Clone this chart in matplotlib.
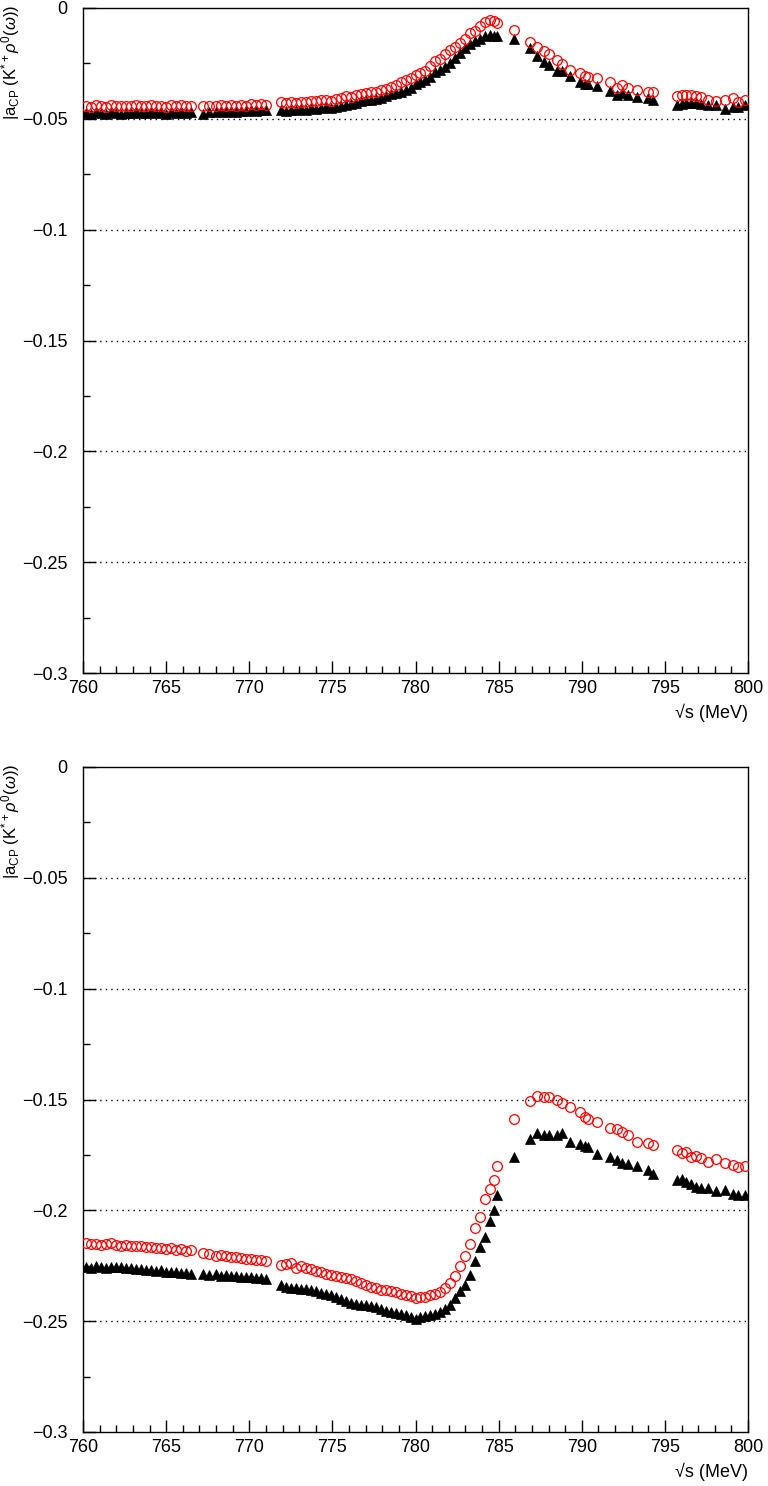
import matplotlib
matplotlib.use("Agg")
import matplotlib.pyplot as plt
from matplotlib.ticker import MultipleLocator

plt.rcParams['font.family'] = ['Liberation Sans', 'DejaVu Sans']
plt.rcParams['mathtext.fontset'] = 'custom'
plt.rcParams['mathtext.rm'] = 'Liberation Sans'
plt.rcParams['mathtext.it'] = 'Liberation Sans:italic'

# energie sqrt(s) en MeV (memes points pour les quatre series)
sqrt_s = [760.2, 760.5, 760.8, 761.1, 761.4, 761.7, 762.0, 762.3, 762.6, 762.9,
          763.2, 763.5, 763.8, 764.1, 764.4, 764.7, 765.0, 765.3, 765.6, 765.9,
          766.2, 766.5, 767.2, 767.6, 768.0, 768.3, 768.6, 768.9, 769.2, 769.5,
          769.8, 770.1, 770.4, 770.7, 771.0,
          771.9, 772.2, 772.5, 772.8, 773.1, 773.4, 773.7, 774.0, 774.3, 774.6,
          774.9, 775.2, 775.5, 775.8, 776.1, 776.4, 776.7, 777.0, 777.3, 777.6,
          777.9, 778.2, 778.5, 778.8, 779.1, 779.4, 779.7, 780.0, 780.3, 780.6,
          780.9, 781.2, 781.5, 781.8, 782.1, 782.4, 782.7, 783.0, 783.3, 783.6,
          783.9, 784.2, 784.5, 784.7, 784.9,
          785.9, 786.9, 787.3, 787.7, 788.0, 788.5, 788.8, 789.3, 789.9, 790.2,
          790.4, 790.9, 791.7, 792.1, 792.4, 792.8, 793.3, 794.0, 794.3,
          795.7, 796.0, 796.3, 796.6, 796.9, 797.2, 797.6, 798.1, 798.6, 799.1,
          799.4, 799.8]

# panneau du haut : cercles rouges
haut_rouge = [-0.0440, -0.0445, -0.0438, -0.0442, -0.0446, -0.0437, -0.0441, -0.0444, -0.0440, -0.0443,
              -0.0439, -0.0444, -0.0441, -0.0437, -0.0443, -0.0440, -0.0445, -0.0439, -0.0442, -0.0438,
              -0.0443, -0.0440, -0.0444, -0.0441, -0.0443, -0.0439, -0.0442, -0.0438, -0.0441, -0.0436,
              -0.0440, -0.0434, -0.0438, -0.0432, -0.0436,
              -0.0426, -0.0430, -0.0424, -0.0428, -0.0422, -0.0425, -0.0419, -0.0421, -0.0416, -0.0414,
              -0.0418, -0.0411, -0.0404, -0.0396, -0.0400, -0.0392, -0.0388, -0.0384, -0.0380, -0.0377,
              -0.0372, -0.0364, -0.0355, -0.0348, -0.0334, -0.0326, -0.0314, -0.0300, -0.0292, -0.0282,
              -0.0262, -0.0240, -0.0228, -0.0206, -0.0190, -0.0175, -0.0160, -0.0142, -0.0115, -0.0102,
              -0.0080, -0.0064, -0.0056, -0.0058, -0.0068,
              -0.0099, -0.0152, -0.0175, -0.0194, -0.0207, -0.0235, -0.0253, -0.0280, -0.0292, -0.0307,
              -0.0313, -0.0318, -0.0332, -0.0362, -0.0347, -0.0362, -0.0370, -0.0377, -0.0377,
              -0.0397, -0.0392, -0.0394, -0.0392, -0.0398, -0.0400, -0.0415, -0.0418, -0.0415, -0.0404,
              -0.0422, -0.0415]

# panneau du haut : triangles noirs
haut_noir = [-0.0472, -0.0476, -0.0470, -0.0474, -0.0477, -0.0471, -0.0473, -0.0476, -0.0472, -0.0475,
             -0.0470, -0.0474, -0.0472, -0.0469, -0.0474, -0.0471, -0.0476, -0.0470, -0.0473, -0.0469,
             -0.0474, -0.0471, -0.0478, -0.0470, -0.0468, -0.0466, -0.0469, -0.0465, -0.0467, -0.0463,
             -0.0466, -0.0461, -0.0464, -0.0460, -0.0462,
             -0.0460, -0.0464, -0.0458, -0.0461, -0.0456, -0.0458, -0.0453, -0.0455, -0.0450, -0.0448,
             -0.0451, -0.0446, -0.0441, -0.0437, -0.0433, -0.0428, -0.0420, -0.0416, -0.0413, -0.0410,
             -0.0405, -0.0396, -0.0388, -0.0382, -0.0377, -0.0370, -0.0360, -0.0345, -0.0336, -0.0327,
             -0.0310, -0.0290, -0.0278, -0.0264, -0.0250, -0.0224, -0.0205, -0.0182, -0.0162, -0.0150,
             -0.0138, -0.0128, -0.0124, -0.0126, -0.0128,
             -0.0141, -0.0182, -0.0217, -0.0245, -0.0255, -0.0283, -0.0283, -0.0307, -0.0332, -0.0343,
             -0.0343, -0.0352, -0.0373, -0.0392, -0.0385, -0.0392, -0.0403, -0.0408, -0.0415,
             -0.0438, -0.0434, -0.0428, -0.0427, -0.0427, -0.0433, -0.0436, -0.0438, -0.0457, -0.0448,
             -0.0445, -0.0438]

# panneau du bas : cercles rouges
bas_rouge = [-0.2148, -0.2152, -0.2150, -0.2156, -0.2150, -0.2146, -0.2158, -0.2160, -0.2158, -0.2160,
             -0.2162, -0.2160, -0.2164, -0.2165, -0.2168, -0.2170, -0.2174, -0.2172, -0.2178, -0.2176,
             -0.2182, -0.2180, -0.2192, -0.2198, -0.2204, -0.2202, -0.2206, -0.2210, -0.2212, -0.2214,
             -0.2218, -0.2220, -0.2224, -0.2226, -0.2230,
             -0.2245, -0.2240, -0.2236, -0.2258, -0.2252, -0.2262, -0.2266, -0.2272, -0.2280, -0.2286,
             -0.2291, -0.2296, -0.2300, -0.2304, -0.2308, -0.2320, -0.2328, -0.2336, -0.2344, -0.2352,
             -0.2360, -0.2358, -0.2364, -0.2370, -0.2376, -0.2380, -0.2388, -0.2396, -0.2392, -0.2389,
             -0.2384, -0.2378, -0.2368, -0.2350, -0.2330, -0.2295, -0.2250, -0.2205, -0.2152, -0.2080,
             -0.2032, -0.1950, -0.1905, -0.1863, -0.1800,
             -0.1590, -0.1509, -0.1484, -0.1487, -0.1490, -0.1500, -0.1517, -0.1536, -0.1555, -0.1578,
             -0.1588, -0.1600, -0.1627, -0.1634, -0.1645, -0.1660, -0.1693, -0.1698, -0.1705,
             -0.1730, -0.1740, -0.1735, -0.1760, -0.1755, -0.1762, -0.1783, -0.1770, -0.1785, -0.1796,
             -0.1804, -0.1800]

# panneau du bas : triangles noirs
bas_noir = [-0.2255, -0.2258, -0.2252, -0.2256, -0.2260, -0.2254, -0.2257, -0.2256, -0.2261, -0.2258,
            -0.2263, -0.2266, -0.2270, -0.2268, -0.2273, -0.2271, -0.2276, -0.2280, -0.2278, -0.2283,
            -0.2281, -0.2286, -0.2288, -0.2291, -0.2289, -0.2294, -0.2293, -0.2297, -0.2296, -0.2300,
            -0.2299, -0.2303, -0.2305, -0.2304, -0.2308,
            -0.2337, -0.2345, -0.2352, -0.2350, -0.2354, -0.2356, -0.2358, -0.2366, -0.2375, -0.2378,
            -0.2382, -0.2390, -0.2398, -0.2408, -0.2420, -0.2422, -0.2425, -0.2428, -0.2432, -0.2435,
            -0.2445, -0.2455, -0.2458, -0.2462, -0.2466, -0.2472, -0.2480, -0.2488, -0.2482, -0.2476,
            -0.2472, -0.2466, -0.2458, -0.2445, -0.2427, -0.2395, -0.2365, -0.2335, -0.2290, -0.2230,
            -0.2165, -0.2120, -0.2050, -0.2000, -0.1930,
            -0.1760, -0.1678, -0.1650, -0.1660, -0.1662, -0.1660, -0.1652, -0.1690, -0.1700, -0.1712,
            -0.1716, -0.1746, -0.1760, -0.1775, -0.1785, -0.1790, -0.1800, -0.1818, -0.1836,
            -0.1863, -0.1860, -0.1872, -0.1883, -0.1895, -0.1900, -0.1900, -0.1913, -0.1910, -0.1925,
            -0.1930, -0.1930]

fig = plt.figure(figsize=(7.68, 14.86), dpi=100)
ax_haut = fig.add_axes([83/768, 1 - 673/1486, 665/768, 665/1486])
ax_bas = fig.add_axes([83/768, 1 - 1432/1486, 665/768, 665/1486])

ylabel = r'|a$_{\rm CP}$ (K$^{*+}$$\rho^0$($\omega$))'

for ax, rouge, noir, ytop in [(ax_haut, haut_rouge, haut_noir, 5),
                              (ax_bas, bas_rouge, bas_noir, 764)]:
    for yg in [-0.05, -0.1, -0.15, -0.2, -0.25]:
        ax.axhline(yg, color='black', lw=1.0, ls=(0, (1, 3)), zorder=1)
    ax.plot(sqrt_s, noir, ls='none', marker='^', ms=7, color='black',
            markeredgewidth=0.5, zorder=3)
    ax.plot(sqrt_s, rouge, ls='none', marker='o', ms=7, mfc='none',
            mec='red', markeredgewidth=0.9, zorder=4)
    ax.set_xlim(760, 800)
    ax.set_ylim(-0.3, 0)
    ax.xaxis.set_major_locator(MultipleLocator(5))
    ax.xaxis.set_minor_locator(MultipleLocator(1))
    ax.yaxis.set_minor_locator(MultipleLocator(0.025))
    ax.set_yticks([0, -0.05, -0.1, -0.15, -0.2, -0.25, -0.3])
    ax.set_yticklabels(['0', '\u22120.05', '\u22120.1', '\u22120.15', '\u22120.2', '\u22120.25', '\u22120.3'])
    ax.tick_params(which='both', direction='in', top=False, right=False,
                   labelsize=13, width=1)
    ax.tick_params(which='major', length=9)
    ax.tick_params(which='minor', length=5)
    ax.tick_params(axis='y', which='major', pad=11)
    ax.tick_params(axis='x', which='major', pad=5)
    for sp in ax.spines.values():
        sp.set_linewidth(1.0)
    ax.set_xlabel('\u221as (MeV)', loc='right', fontsize=13, labelpad=5)
    # titre de l'axe y, decale a gauche pour ne pas toucher -0.05
    fig.text(11/768, 1 - ytop/1486, ylabel, rotation=90, ha='center', va='top',
             fontsize=12)

fig.savefig('out.png', dpi=100)
